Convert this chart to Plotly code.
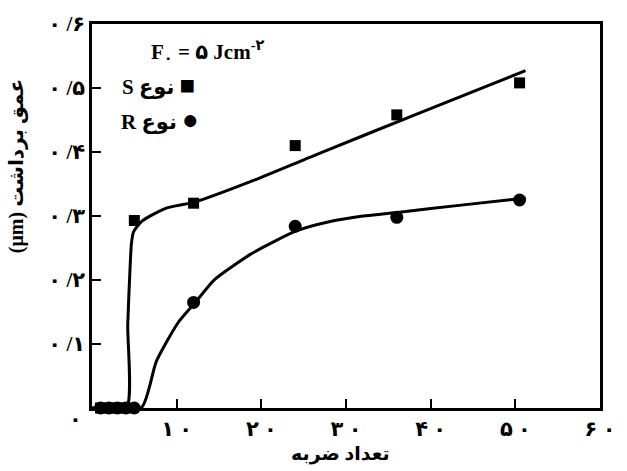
import plotly.graph_objects as go

# Measured points: number of pulses vs. ablation depth (um)
s_pulses = [1, 2, 3, 4, 5, 12, 24, 36, 50.5]
s_depth = [0, 0, 0, 0, 0.293, 0.32, 0.41, 0.458, 0.508]
r_pulses = [1, 2, 3, 4, 5, 12, 24, 36, 50.5]
r_depth = [0, 0, 0, 0, 0, 0.165, 0.284, 0.298, 0.325]

# Fitted trend curves
s_fit_x = [0, 4.07, 4.22, 4.5, 4.65, 4.9, 5.9, 8.7, 12.2, 18.4, 26.5, 38.5, 51.2]
s_fit_y = [0, 0, 0.13, 0.22, 0.256, 0.275, 0.292, 0.312, 0.322, 0.352, 0.396, 0.46, 0.527]
r_fit_x = [0, 5.8, 7.6, 10.2, 12.2, 14.5, 18.7, 21.5, 24.2, 28, 32, 36.3, 43.6, 51.2]
r_fit_y = [0, 0, 0.073, 0.134, 0.165, 0.201, 0.24, 0.26, 0.277, 0.291, 0.3, 0.306, 0.317, 0.328]

x_ticks = [10, 20, 30, 40, 50, 60]
x_labels = ["۱ ۰", "۲ ۰", "۳ ۰", "۴ ۰", "۵ ۰", "۶ ۰"]
y_ticks = [0.1, 0.2, 0.3, 0.4, 0.5, 0.6]
y_labels = ["۰ /۱", "۰ /۲", "۰ /۳", "۰ /۴", "۰ /۵", "۰ /۶"]

FONT = "Liberation Serif, DejaVu Sans, serif"

fig = go.Figure()
fig.add_trace(go.Scatter(x=s_fit_x, y=s_fit_y, mode="lines",
                         line=dict(color="black", width=3, shape="spline", smoothing=0.6)))
fig.add_trace(go.Scatter(x=r_fit_x, y=r_fit_y, mode="lines",
                         line=dict(color="black", width=3, shape="spline", smoothing=0.6)))
fig.add_trace(go.Scatter(x=r_pulses, y=r_depth, mode="markers", cliponaxis=False,
                         marker=dict(symbol="circle", size=13, color="black")))
fig.add_trace(go.Scatter(x=s_pulses, y=s_depth, mode="markers", cliponaxis=False,
                         marker=dict(symbol="square", size=11, color="black")))

axis_common = dict(showline=True, linecolor="black", linewidth=2.5, mirror=True,
                   ticks="inside", ticklen=9, tickwidth=2, tickcolor="black",
                   showgrid=False, zeroline=False,
                   tickfont=dict(family=FONT, size=21, color="black", weight="bold"))

fig.update_xaxes(range=[0, 60], tickvals=x_ticks, ticktext=x_labels, **axis_common)
fig.update_yaxes(range=[0, 0.6], tickvals=y_ticks, ticktext=y_labels, **axis_common)

annots = [
    dict(text="<b>۰</b>", x=75, y=419, size=21),
    dict(text="<b>F<sub>۰</sub> = ۵ Jcm<sup>-۲</sup></b>", x=210, y=43, size=21),
    dict(text="<b>S نوع <span style='font-size:26px'>■</span></b>", x=160, y=78, size=21),
    dict(text="<b>R نوع <span style='font-size:28px'>●</span></b>", x=161, y=113, size=21),
    dict(text="<b>تعداد ضربه</b>", x=345, y=455, size=19),
    dict(text="<b>(μm) عمق برداشت</b>", x=15, y=160, size=20, angle=-90),
]
for a in annots:
    fig.add_annotation(
        text=a["text"], xref="paper", yref="paper",
        x=(a["x"] - 92) / 518, y=(408 - a["y"]) / 393,
        xanchor="center", yanchor="middle", showarrow=False,
        textangle=a.get("angle", 0),
        font=dict(family=FONT, size=a.get("size", 19), color="black"),
    )

fig.update_layout(
    width=627, height=471,
    margin=dict(l=92, r=17, t=15, b=63),
    paper_bgcolor="white", plot_bgcolor="white",
    showlegend=False,
)

fig.write_html("out.html")
